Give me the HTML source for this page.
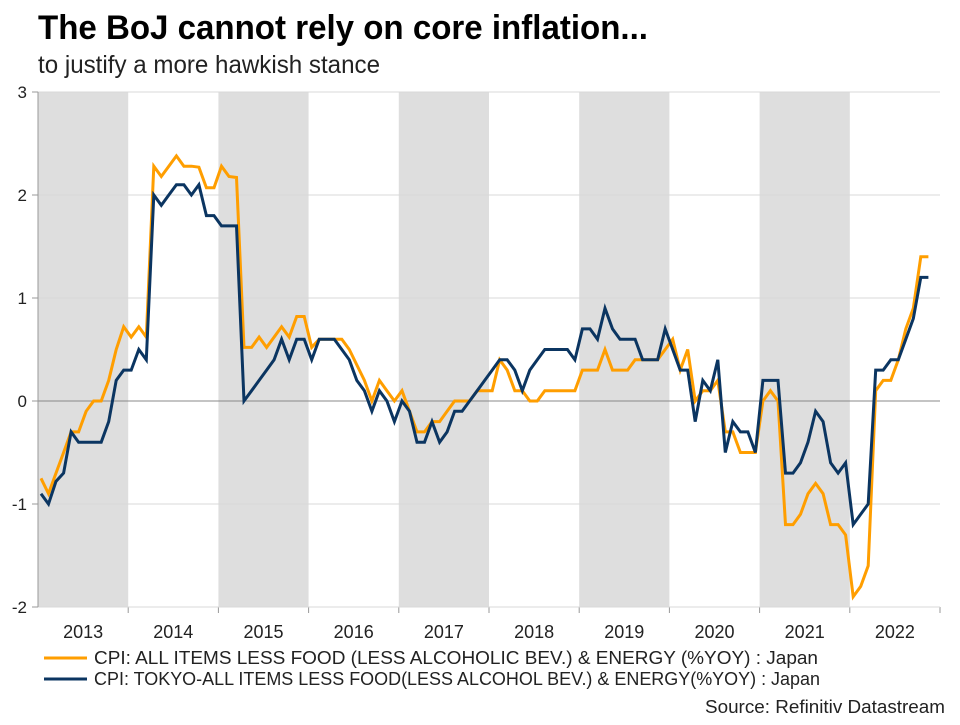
<!DOCTYPE html>
<html><head><meta charset="utf-8"><style>
body{margin:0;background:#fff;font-family:"Liberation Sans",sans-serif;}
svg text{font-family:"Liberation Sans",sans-serif;}
</style></head><body>
<svg id="c" width="960" height="720">
<g id="bands"></g><g id="grid"></g><g id="series"></g>
<text x="38" y="39" font-size="34" font-weight="bold" fill="#000" textLength="610" lengthAdjust="spacingAndGlyphs">The BoJ cannot rely on core inflation...</text>
<text x="38" y="73" font-size="25" fill="#222" textLength="342" lengthAdjust="spacingAndGlyphs">to justify a more hawkish stance</text>
<line x1="44" y1="658" x2="87" y2="658" stroke="#FF9E00" stroke-width="3"/>
<text x="94" y="664" font-size="18.5" fill="#222" textLength="724" lengthAdjust="spacingAndGlyphs">CPI: ALL ITEMS LESS FOOD (LESS ALCOHOLIC BEV.) &amp; ENERGY (%YOY) : Japan</text>
<line x1="44" y1="679" x2="87" y2="679" stroke="#0B3561" stroke-width="3"/>
<text x="94" y="685" font-size="18.5" fill="#222" textLength="726" lengthAdjust="spacingAndGlyphs">CPI: TOKYO-ALL ITEMS LESS FOOD(LESS ALCOHOL BEV.) &amp; ENERGY(%YOY) : Japan</text>
<text x="945" y="713" font-size="18" fill="#222" text-anchor="end" textLength="240" lengthAdjust="spacingAndGlyphs">Source: Refinitiv Datastream</text>
</svg>
<script>
const years=["2013","2014","2015","2016","2017","2018","2019","2020","2021","2022"];
const yTicks=[3,2,1,0,-1,-2];
const coreJapan=[-0.75,-0.9,-0.7,-0.5,-0.3,-0.3,-0.1,0,0,0.2,0.5,0.72,
0.62,0.72,0.62,2.28,2.18,2.28,2.38,2.28,2.28,2.27,2.07,2.07,
2.28,2.18,2.17,0.52,0.52,0.62,0.52,0.62,0.72,0.62,0.82,0.82,
0.52,0.6,0.6,0.6,0.6,0.5,0.35,0.2,0.0,0.2,0.1,0.0,
0.1,-0.1,-0.3,-0.3,-0.2,-0.2,-0.1,0,0,0,0.1,0.1,
0.1,0.4,0.3,0.1,0.1,0,0,0.1,0.1,0.1,0.1,0.1,
0.3,0.3,0.3,0.5,0.3,0.3,0.3,0.4,0.4,0.4,0.4,0.5,
0.6,0.3,0.5,0.0,0.1,0.1,0.2,-0.3,-0.3,-0.5,-0.5,-0.5,
0.0,0.1,0.0,-1.2,-1.2,-1.1,-0.9,-0.8,-0.9,-1.2,-1.2,-1.3,
-1.9,-1.8,-1.6,0.1,0.2,0.2,0.4,0.7,0.9,1.4,1.4];
const coreTokyo=[-0.9,-1.0,-0.78,-0.7,-0.3,-0.4,-0.4,-0.4,-0.4,-0.2,0.2,0.3,
0.3,0.5,0.4,2.0,1.9,2.0,2.1,2.1,2.0,2.1,1.8,1.8,
1.7,1.7,1.7,0.0,0.1,0.2,0.3,0.4,0.6,0.4,0.6,0.6,
0.4,0.6,0.6,0.6,0.5,0.4,0.2,0.1,-0.1,0.1,0.0,-0.2,
0.0,-0.1,-0.4,-0.4,-0.2,-0.4,-0.3,-0.1,-0.1,0.0,0.1,0.2,
0.3,0.4,0.4,0.3,0.1,0.3,0.4,0.5,0.5,0.5,0.5,0.4,
0.7,0.7,0.6,0.9,0.7,0.6,0.6,0.6,0.4,0.4,0.4,0.7,
0.5,0.3,0.3,-0.2,0.2,0.1,0.4,-0.5,-0.2,-0.3,-0.3,-0.5,
0.2,0.2,0.2,-0.7,-0.7,-0.6,-0.4,-0.1,-0.2,-0.6,-0.7,-0.6,
-1.2,-1.1,-1.0,0.3,0.3,0.4,0.4,0.6,0.8,1.2,1.2];
const NS="http://www.w3.org/2000/svg";
const L=38,R=940,T=92,B=607,yearW=(R-L)/10;
const xM=i=>41+i*7.52;
const yV=v=>401-v*103;
function mk(tag,attrs,parent){const e=document.createElementNS(NS,tag);for(const k in attrs)e.setAttribute(k,attrs[k]);parent.appendChild(e);return e;}
const bands=document.getElementById('bands'),grid=document.getElementById('grid'),ser=document.getElementById('series');
years.forEach((y,k)=>{
 if(k%2===0){const r=mk('rect',{x:L+k*yearW,y:T,width:yearW,height:B-T,fill:'#DEDEDE'},bands);
 
 }
 const t=mk('text',{x:L+k*yearW+yearW/2,y:638,'font-size':18,fill:'#222','text-anchor':'middle'},grid);
 t.textContent=y;
 
 
 const tk=mk('line',{x1:L+(k+1)*yearW,x2:L+(k+1)*yearW,y1:B,y2:B+6,stroke:'#999'},grid);
 
 
});
yTicks.forEach(v=>{
 const g=mk('line',{x1:L,x2:R,y1:yV(v),y2:yV(v),stroke:v===0?'#888':'#D8D8D8','stroke-width':1},grid);
 
 
 const tk=mk('line',{x1:L-6,x2:L,y1:yV(v),y2:yV(v),stroke:'#999'},grid);
 
 
 const t=mk('text',{x:27,y:yV(v)+6,'font-size':17,fill:'#222','text-anchor':'end'},grid);
 t.textContent=v;
 
 
});
const ax=mk('line',{x1:L,x2:L,y1:T,y2:B,stroke:'#999'},grid);


function line(data,color,name){
 const p=mk('polyline',{points:data.map((v,i)=>xM(i).toFixed(1)+','+yV(v).toFixed(1)).join(' '),fill:'none',stroke:color,'stroke-width':3,'stroke-linejoin':'miter'},ser);
 
 
}
line(coreJapan,'#FF9E00','series-core-japan');
line(coreTokyo,'#0B3561','series-core-tokyo');
</script>
</body></html>
